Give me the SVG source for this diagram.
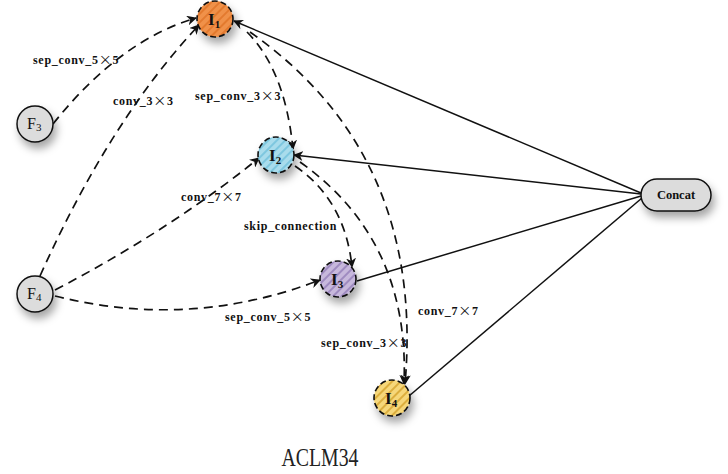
<svg xmlns="http://www.w3.org/2000/svg" width="728" height="474" viewBox="0 0 728 474">
<style>
.lbl{font-family:"Liberation Serif",serif;font-weight:bold;font-size:12px;letter-spacing:0.7px;fill:#111}
.x{font-family:"Noto Sans CJK SC","Liberation Serif",sans-serif;font-weight:normal;font-size:13px}
.nd{font-family:"Liberation Serif",serif;font-size:16px;fill:#111}
.ndb{font-family:"Liberation Serif",serif;font-weight:bold;font-size:17px;fill:#111}
.dash{fill:none;stroke:#111;stroke-width:1.7;stroke-dasharray:9 6}
.solid{fill:none;stroke:#111;stroke-width:1.5}
.inode{stroke:#111;stroke-width:1.6;stroke-dasharray:6 3}
.fnode{fill:#dcdcdc;stroke:#111;stroke-width:1.5}
</style>
<defs>
<filter id="sh" x="-50%" y="-50%" width="200%" height="200%">
<feDropShadow dx="3" dy="6" stdDeviation="4" flood-color="#000" flood-opacity="0.35"/>
</filter>
<marker id="ar" viewBox="0 0 10 10" refX="9" refY="5" markerWidth="10" markerHeight="10" markerUnits="userSpaceOnUse" orient="auto">
<path d="M0,0 L10,5 L0,10 L3,5 Z" fill="#111"/>
</marker>
<pattern id="p1" width="6" height="6" patternUnits="userSpaceOnUse" patternTransform="rotate(45)">
<rect width="6" height="6" fill="#f0914a"/><rect width="2" height="6" fill="#e37a2f"/>
</pattern>
<pattern id="p2" width="6" height="6" patternUnits="userSpaceOnUse" patternTransform="rotate(45)">
<rect width="6" height="6" fill="#a9dcec"/><rect width="2" height="6" fill="#7ec7df"/>
</pattern>
<pattern id="p3" width="6" height="6" patternUnits="userSpaceOnUse" patternTransform="rotate(45)">
<rect width="6" height="6" fill="#c7b8dc"/><rect width="2" height="6" fill="#9f8bc0"/>
</pattern>
<pattern id="p4" width="6" height="6" patternUnits="userSpaceOnUse" patternTransform="rotate(45)">
<rect width="6" height="6" fill="#f6d77a"/><rect width="2" height="6" fill="#dcae3e"/>
</pattern>
</defs>
<rect width="728" height="474" fill="#fff"/>
<g id="connectors">
<path class="dash" d="M53,124 Q120,40 196,18" marker-end="url(#ar)"/>
<path class="dash" d="M40,276 Q110,120 199,25" marker-end="url(#ar)"/>
<path class="dash" d="M55,290 Q170,230 259,158" marker-end="url(#ar)"/>
<path class="dash" d="M55,296 Q190,330 320,280" marker-end="url(#ar)"/>
<path class="dash" d="M247,32 Q285,70 293,149" marker-end="url(#ar)"/>
<path class="dash" d="M250,32 Q425,155 405,384" marker-end="url(#ar)"/>
<path class="dash" d="M295,166 Q345,200 352,267" marker-end="url(#ar)"/>
<path class="dash" d="M300,162 Q410,240 404,384" marker-end="url(#ar)"/>
<path class="solid" d="M641,193 L234,21" marker-end="url(#ar)"/>
<path class="solid" d="M641,194 L294,155" marker-end="url(#ar)"/>
<path class="solid" d="M357,281 L641,196"/>
<path class="solid" d="M409,396 L642,198"/>
<text class="lbl" x="33" y="64">sep_conv_5<tspan class="x">×</tspan>5</text>
<text class="lbl" x="113" y="105">conv_3<tspan class="x">×</tspan>3</text>
<text class="lbl" x="195" y="100">sep_conv_3<tspan class="x">×</tspan>3</text>
<text class="lbl" x="181" y="201">conv_7<tspan class="x">×</tspan>7</text>
<text class="lbl" x="244" y="230">skip_connection</text>
<text class="lbl" x="225" y="321">sep_conv_5<tspan class="x">×</tspan>5</text>
<text class="lbl" x="418" y="315">conv_7<tspan class="x">×</tspan>7</text>
<text class="lbl" x="321" y="347">sep_conv_3<tspan class="x">×</tspan>3</text>
</g>
<g id="I1">
<circle cx="215" cy="19" r="18" fill="url(#p1)" class="inode" filter="url(#sh)"/>
<text class="ndb" x="208" y="25">I<tspan font-size="11" dy="3">1</tspan></text>
</g>
<g id="I2">
<circle cx="276" cy="155" r="18" fill="url(#p2)" class="inode" filter="url(#sh)"/>
<text class="ndb" x="269" y="161">I<tspan font-size="11" dy="3">2</tspan></text>
</g>
<g id="I3">
<circle cx="338" cy="279" r="18" fill="url(#p3)" class="inode" filter="url(#sh)"/>
<text class="ndb" x="331" y="285">I<tspan font-size="11" dy="3">3</tspan></text>
</g>
<g id="I4">
<circle cx="392" cy="398" r="18" fill="url(#p4)" class="inode" filter="url(#sh)"/>
<text class="ndb" x="385" y="404">I<tspan font-size="11" dy="3">4</tspan></text>
</g>
<g id="F3">
<circle cx="35" cy="124" r="18" class="fnode" filter="url(#sh)"/>
<text class="nd" x="27" y="129">F<tspan font-size="11" dy="2">3</tspan></text>
</g>
<g id="F4">
<circle cx="35" cy="294" r="18" class="fnode" filter="url(#sh)"/>
<text class="nd" x="27" y="299">F<tspan font-size="11" dy="2">4</tspan></text>
</g>
<g id="Concat">
<rect x="641" y="179" width="70" height="32" rx="16" class="fnode" filter="url(#sh)"/>
<text x="676" y="199" text-anchor="middle" font-family="Liberation Serif, serif" font-weight="bold" font-size="12.5" fill="#111">Concat</text>
</g>
<text x="320" y="466" text-anchor="middle" font-family="Liberation Serif, serif" font-size="25" fill="#222" textLength="77" lengthAdjust="spacingAndGlyphs">ACLM34</text>
</svg>
